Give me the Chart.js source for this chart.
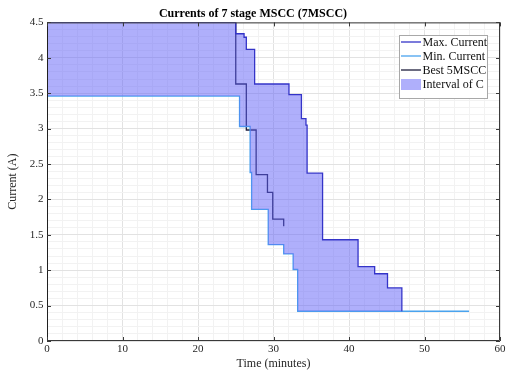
<!DOCTYPE html>
<html>
<head>
<meta charset="utf-8">
<title>Currents of 7 stage MSCC</title>
<script src="https://cdn.jsdelivr.net/npm/chart.js@4/dist/chart.umd.min.js"></script>
<style>
  html, body { margin: 0; padding: 0; background: #fff; }
  #wrap { width: 513px; height: 374px; }
</style>
</head>
<body>
<div id="wrap"><canvas id="msccChart" width="513" height="374"></canvas></div>
<script>
// ===============================
// Data
// ===============================

// Max. current: time where each step starts (min) and its level (A)
const maxTime    = [0, 25.0, 26.1, 26.4, 27.5, 32.05, 33.7, 34.3, 34.45, 36.5, 41.2, 43.4, 45.1, 47.0];
const maxCurrent = [4.5, 4.34, 4.29, 4.12, 3.63, 3.48, 3.14, 3.05, 2.37, 1.43, 1.05, 0.95, 0.75, 0.42];

// Min. current
const minTime    = [0, 25.5, 26.9, 27.1, 29.3, 31.35, 32.6, 33.2, 55.9];
const minCurrent = [3.46, 3.03, 2.38, 1.86, 1.36, 1.23, 1.01, 0.42, 0.42];

// Best 5MSCC
const bestTime    = [0, 0, 25.0, 26.4, 27.7, 29.2, 29.9, 31.35];
const bestCurrent = [0, 4.5, 3.63, 2.98, 2.35, 2.10, 1.72, 1.62];

// tick labels
const xTicks = [0, 10, 20, 30, 40, 50, 60];
const yTicks = [0, 0.5, 1, 1.5, 2, 2.5, 3, 3.5, 4, 4.5];

const legendNames = ["Max. Current", "Min. Current", "Best 5MSCC", "Interval of C"];

const MAX_COLOR = "#3434c8";
const MIN_COLOR = "#4aa3ee";
const BEST_COLOR = "#1c1c3c";
const FILL_COLOR = "rgba(96,96,248,0.5)";
const SERIF = '"Liberation Serif", "Times New Roman", serif';

function toPoints(xs, ys) {
    return xs.map((x, i) => ({ x: x, y: ys[i] }));
}

function isTick(list, v) {
    return list.some(t => Math.abs(t - v) < 1e-6);
}

// ===============================
// MATLAB style box, ticks, legend
// ===============================

const matlabBox = {
    id: "matlabBox",
    afterDatasetsDraw(chart) {
        const ctx = chart.ctx;
        const a = chart.chartArea;
        const xs = chart.scales.x;
        const ys = chart.scales.y;

        ctx.save();
        ctx.strokeStyle = "#3a3a3a";
        ctx.lineWidth = 1;

        // top, right and bottom edges
        ctx.beginPath();
        ctx.moveTo(a.left, a.top + 0.5);
        ctx.lineTo(a.right - 0.5, a.top + 0.5);
        ctx.lineTo(a.right - 0.5, a.bottom - 0.5);
        ctx.lineTo(a.left, a.bottom - 0.5);
        ctx.stroke();

        // left edge darker (data line sits on it)
        ctx.strokeStyle = "#202020";
        ctx.beginPath();
        ctx.moveTo(a.left + 0.5, a.top);
        ctx.lineTo(a.left + 0.5, a.bottom);
        ctx.stroke();

        // inward tick marks
        ctx.strokeStyle = "#3a3a3a";
        ctx.beginPath();
        xTicks.forEach(v => {
            const px = Math.round(xs.getPixelForValue(v)) + 0.5;
            ctx.moveTo(px, a.bottom);
            ctx.lineTo(px, a.bottom - 4);
            ctx.moveTo(px, a.top);
            ctx.lineTo(px, a.top + 4);
        });
        yTicks.forEach(v => {
            const py = Math.round(ys.getPixelForValue(v)) + 0.5;
            ctx.moveTo(a.left, py);
            ctx.lineTo(a.left + 4, py);
            ctx.moveTo(a.right, py);
            ctx.lineTo(a.right - 4, py);
        });
        ctx.stroke();

        // legend box
        const lx = 399.5, ly = 35.5, lw = 88, lh = 63;
        ctx.fillStyle = "#ffffff";
        ctx.fillRect(lx, ly, lw, lh);
        ctx.strokeStyle = "#a8a8a8";
        ctx.strokeRect(lx, ly, lw, lh);

        ctx.font = "12px " + SERIF;
        ctx.textBaseline = "middle";
        ctx.textAlign = "left";
        const colors = [MAX_COLOR, MIN_COLOR, BEST_COLOR];
        legendNames.forEach((name, i) => {
            const ry = 42 + i * 14;
            if (i < 3) {
                ctx.strokeStyle = colors[i];
                ctx.lineWidth = 1.3;
                ctx.beginPath();
                ctx.moveTo(401, ry);
                ctx.lineTo(421, ry);
                ctx.stroke();
            } else {
                ctx.fillStyle = FILL_COLOR;
                ctx.fillRect(401, ry - 5, 20, 11);
            }
            ctx.fillStyle = "#111111";
            ctx.fillText(name, 422.5, ry + 0.5);
        });

        ctx.restore();
    }
};

// ===============================
// Chart
// ===============================

new Chart(document.getElementById("msccChart"), {
    type: "line",
    data: {
        datasets: [
            {
                label: legendNames[0],
                data: toPoints(maxTime, maxCurrent),
                borderColor: MAX_COLOR,
                borderWidth: 1.3,
                stepped: "before",
                pointRadius: 0,
                fill: { target: 1, above: FILL_COLOR, below: FILL_COLOR },
                backgroundColor: FILL_COLOR
            },
            {
                label: legendNames[1],
                data: toPoints(minTime, minCurrent),
                borderColor: MIN_COLOR,
                borderWidth: 1.3,
                stepped: "before",
                pointRadius: 0,
                fill: false
            },
            {
                label: legendNames[2],
                data: toPoints(bestTime, bestCurrent),
                borderColor: BEST_COLOR,
                borderWidth: 1.3,
                stepped: "before",
                pointRadius: 0,
                fill: false
            }
        ]
    },
    options: {
        responsive: false,
        animation: false,
        layout: {
            padding: { left: 6, right: 13, top: 0, bottom: 3 }
        },
        plugins: {
            legend: { display: false },
            tooltip: { enabled: false },
            title: {
                display: true,
                text: "Currents of 7 stage MSCC (7MSCC)",
                color: "#000",
                font: { family: SERIF, size: 12, weight: "bold" },
                padding: { top: 7, bottom: 1 }
            }
        },
        scales: {
            x: {
                type: "linear",
                min: 0,
                max: 60,
                border: { display: false },
                grid: {
                    drawTicks: false,
                    color: ctx => isTick(xTicks, ctx.tick.value) ? "#e2e2e2" : "#f2f2f2"
                },
                ticks: {
                    stepSize: 2,
                    autoSkip: false,
                    maxRotation: 0,
                    padding: 2,
                    color: "#262626",
                    font: { family: SERIF, size: 11 },
                    callback: v => isTick(xTicks, v) ? String(v) : ""
                },
                title: {
                    display: true,
                    text: "Time (minutes)",
                    color: "#262626",
                    font: { family: SERIF, size: 12 },
                    padding: 0
                },
                afterFit: scale => { scale.height = 30; }
            },
            y: {
                min: 0,
                max: 4.5,
                border: { display: false },
                grid: {
                    drawTicks: false,
                    color: ctx => isTick(yTicks, ctx.tick.value) ? "#e2e2e2" : "#f2f2f2"
                },
                ticks: {
                    stepSize: 0.1,
                    autoSkip: false,
                    padding: 3.5,
                    color: "#262626",
                    font: { family: SERIF, size: 11 },
                    callback: v => {
                        const t = yTicks.find(t => Math.abs(t - v) < 1e-6);
                        return t === undefined ? "" : String(t);
                    }
                },
                title: {
                    display: true,
                    text: "Current (A)",
                    color: "#262626",
                    font: { family: SERIF, size: 12 },
                    padding: 0
                },
                afterFit: scale => { scale.width = 41; }
            }
        }
    },
    plugins: [matlabBox]
});
</script>
</body>
</html>
